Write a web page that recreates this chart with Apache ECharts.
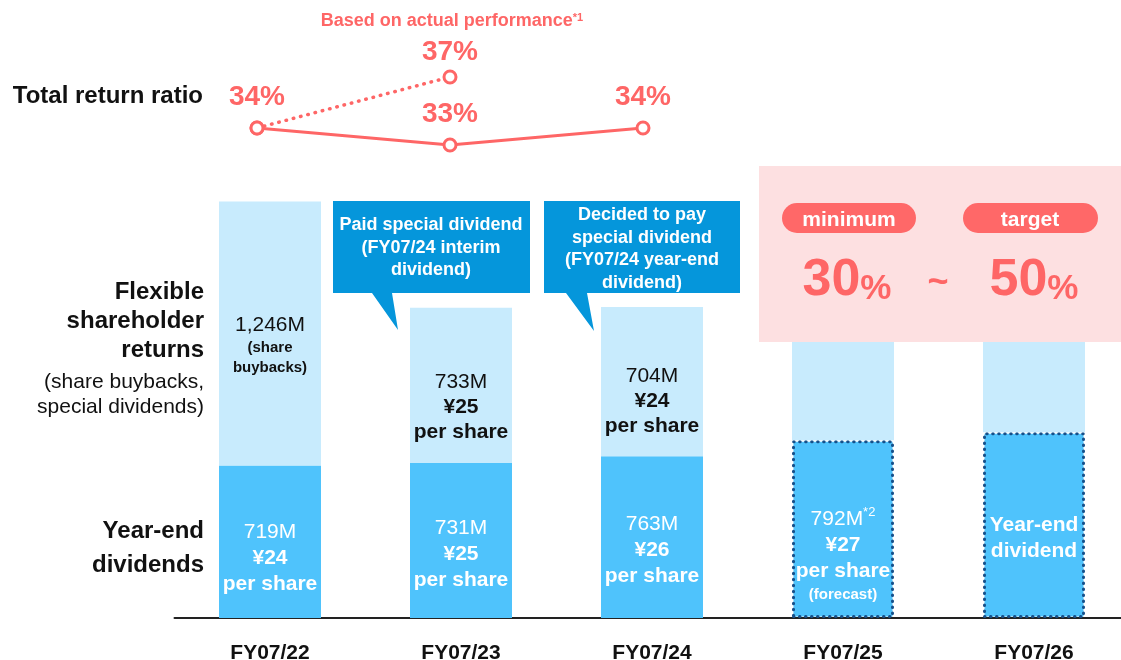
<!DOCTYPE html>
<html>
<head>
<meta charset="utf-8">
<script src="https://cdn.jsdelivr.net/npm/echarts@6/dist/echarts.min.js"></script>
<style>
  html, body { margin: 0; padding: 0; background: #fff; }
  #chart { width: 1121px; height: 660px; }
</style>
</head>
<body>
<div id="chart"></div>
<script>
// data
const years = ['FY07/22', 'FY07/23', 'FY07/24', 'FY07/25', 'FY07/26'];
const yearEnd = [719, 731, 763, 838, 876];        // year-end dividends (M)
const flexible = [1246, 733, 704, 890, 850];      // flexible returns (M), last two hidden under box
const returnActual = [34, 33, 34];                // total return ratio (%)
const returnBased = [34, 37];                     // based on actual performance (%)

const darkLabels = [
  '{n|719M}\n{b|¥24}\n{b|per share}',
  '{n|731M}\n{b|¥25}\n{b|per share}',
  '{n|763M}\n{b|¥26}\n{b|per share}',
  '{n|792M}{sup|*2}\n{b|¥27}\n{b|per share}\n{s|(forecast)}',
  '{b|Year-end}\n{b|dividend}'
];
const lightLabels = [
  '{n|1,246M}\n{s|(share}\n{s|buybacks)}',
  '{n|733M}\n{b|¥25}\n{b|per share}',
  '{n|704M}\n{b|¥24}\n{b|per share}',
  '', ''
];

const FONT = '"Liberation Sans", Arial, sans-serif';
const SALMON = '#fe6666';
const DARK = '#4fc3fc';
const LIGHT = '#c8ebfd';

const darkOffsets = [16, 14, 13, 27, 13];
const lightOffsets = [12, 22, 20, 0, 0];

let chart = echarts.init(document.getElementById('chart'));

const richDark = {
  n: { fontSize: 21, color: '#fff', lineHeight: 26, fontFamily: FONT },
  b: { fontSize: 21, color: '#fff', fontWeight: 'bold', lineHeight: 26, fontFamily: FONT },
  s: { fontSize: 15, color: '#fff', fontWeight: 'bold', lineHeight: 22, fontFamily: FONT },
  sup: { fontSize: 13, color: '#fff', verticalAlign: 'top', lineHeight: 26, fontFamily: FONT }
};
const richLight = {
  n: { fontSize: 21, color: '#111', lineHeight: 25, fontFamily: FONT },
  b: { fontSize: 21, color: '#111', fontWeight: 'bold', lineHeight: 25, fontFamily: FONT },
  s: { fontSize: 15, color: '#111', fontWeight: 'bold', lineHeight: 20, fontFamily: FONT }
};

const dottedBorder = {
  borderColor: '#16508a',
  borderWidth: 3,
  borderType: [0.5, 5.5],
  borderCap: 'round'
};

function textEl(text, x, y, font, opts) {
  return {
    type: 'text',
    z: 60,
    style: Object.assign({
      text: text, x: x, y: y, font: font, fill: '#111',
      textAlign: 'right', textVerticalAlign: 'middle'
    }, opts || {})
  };
}

let option = {
  animation: false,
  grid: [
    { left: 174.5, width: 955, top: 194, bottom: 42, outerBoundsMode: 'none' },
    { left: 257, width: 772, top: 26, height: 170, outerBoundsMode: 'none' }
  ],
  xAxis: [
    {
      type: 'category', gridIndex: 0, data: years,
      axisLine: { lineStyle: { color: '#222', width: 2 } },
      axisTick: { show: false },
      axisLabel: { margin: 25, fontSize: 21, fontWeight: 'bold', color: '#111', fontFamily: FONT }
    },
    { type: 'value', gridIndex: 1, min: 0, max: 4, show: false }
  ],
  yAxis: [
    { type: 'value', gridIndex: 0, min: 0, max: 2000, show: false },
    { type: 'value', gridIndex: 1, min: 30, max: 40, show: false }
  ],
  series: [
    {
      type: 'bar', stack: 'r', barWidth: 102,
      data: yearEnd.map((v, i) => ({
        value: v,
        itemStyle: i >= 3 ? Object.assign({ color: DARK }, dottedBorder) : { color: DARK },
        label: { offset: [0, darkOffsets[i]] }
      })),
      label: {
        show: true, position: 'inside',
        formatter: p => darkLabels[p.dataIndex],
        rich: richDark
      }
    },
    {
      type: 'bar', stack: 'r', barWidth: 102,
      data: flexible.map((v, i) => ({ value: v, label: { offset: [0, lightOffsets[i]] } })),
      itemStyle: { color: LIGHT },
      label: {
        show: true, position: 'inside',
        formatter: p => lightLabels[p.dataIndex],
        rich: richLight
      }
    },
    {
      type: 'line', xAxisIndex: 1, yAxisIndex: 1, z: 5,
      data: returnActual.map((v, i) => [i, v]),
      symbol: 'circle', symbolSize: 12,
      itemStyle: { color: '#fff', borderColor: SALMON, borderWidth: 3 },
      lineStyle: { color: SALMON, width: 3 },
      label: {
        show: true, position: 'top', distance: 9,
        formatter: p => p.value[1] + '%',
        fontSize: 28, fontWeight: 'bold', color: SALMON, fontFamily: FONT
      }
    },
    {
      type: 'line', xAxisIndex: 1, yAxisIndex: 1, z: 4,
      data: returnBased.map((v, i) => [i, v]),
      symbol: 'circle', symbolSize: 12,
      itemStyle: { color: '#fff', borderColor: SALMON, borderWidth: 3 },
      lineStyle: { color: SALMON, width: 3.5, type: [0.5, 7], cap: 'round' },
      label: {
        show: true, position: 'top', distance: 3,
        formatter: p => (p.dataIndex === 1 ? p.value[1] + '%' : ''),
        fontSize: 28, fontWeight: 'bold', color: SALMON, fontFamily: FONT
      }
    }
  ],
  graphic: [
    // left side labels
    textEl('Total return ratio', 203, 96, 'bold 24px ' + FONT),
    textEl('Flexible\nshareholder\nreturns', 204, 321, 'bold 24px ' + FONT, { lineHeight: 29 }),
    textEl('(share buybacks,\nspecial dividends)', 204, 395, '21px ' + FONT, { lineHeight: 25 }),
    textEl('Year-end\ndividends', 204, 548, 'bold 24px ' + FONT, { lineHeight: 34 }),
    // top note
    {
      type: 'text', z: 60,
      style: {
        x: 452, y: 21, textAlign: 'center', textVerticalAlign: 'middle',
        text: '{a|Based on actual performance}{s|*1}',
        rich: {
          a: { font: 'bold 18px ' + FONT, fill: SALMON },
          s: { font: 'bold 11px ' + FONT, fill: SALMON, verticalAlign: 'top' }
        }
      }
    },
    // callouts
    {
      type: 'polygon', z: 50,
      shape: { points: [[333, 201], [530, 201], [530, 293], [392, 293], [398, 330], [372, 293], [333, 293]] },
      style: { fill: '#0596db' }
    },
    textEl('Paid special dividend\n(FY07/24 interim\ndividend)', 431, 248, 'bold 18px ' + FONT,
      { fill: '#fff', textAlign: 'center', lineHeight: 22.5 }),
    {
      type: 'polygon', z: 50,
      shape: { points: [[544, 201], [740, 201], [740, 293], [587, 293], [594, 331], [566, 293], [544, 293]] },
      style: { fill: '#0596db' }
    },
    textEl('Decided to pay\nspecial dividend\n(FY07/24 year-end\ndividend)', 642, 249, 'bold 18px ' + FONT,
      { fill: '#fff', textAlign: 'center', lineHeight: 22.5 }),
    // target box
    {
      type: 'rect', z: 50,
      shape: { x: 759, y: 166, width: 362, height: 176 },
      style: { fill: '#fde0e1' }
    },
    {
      type: 'rect', z: 51,
      shape: { x: 782, y: 203, width: 134, height: 30, r: 15 },
      style: { fill: '#ff6868' }
    },
    {
      type: 'rect', z: 51,
      shape: { x: 963, y: 203, width: 135, height: 30, r: 15 },
      style: { fill: '#ff6868' }
    },
    textEl('minimum', 849, 220, 'bold 21px ' + FONT, { fill: '#fff', textAlign: 'center' }),
    textEl('target', 1030, 220, 'bold 21px ' + FONT, { fill: '#fff', textAlign: 'center' }),
    {
      type: 'text', z: 60,
      style: {
        x: 847, y: 281, textAlign: 'center', textVerticalAlign: 'middle',
        text: '{b|30}{p|%}',
        rich: {
          b: { font: 'bold 52px ' + FONT, fill: SALMON, verticalAlign: 'bottom' },
          p: { font: 'bold 35px ' + FONT, fill: SALMON, verticalAlign: 'bottom' }
        }
      }
    },
    textEl('~', 938, 283, 'bold 36px ' + FONT, { fill: SALMON, textAlign: 'center' }),
    {
      type: 'text', z: 60,
      style: {
        x: 1034, y: 281, textAlign: 'center', textVerticalAlign: 'middle',
        text: '{b|50}{p|%}',
        rich: {
          b: { font: 'bold 52px ' + FONT, fill: SALMON, verticalAlign: 'bottom' },
          p: { font: 'bold 35px ' + FONT, fill: SALMON, verticalAlign: 'bottom' }
        }
      }
    }
  ]
};

chart.setOption(option);
</script>
</body>
</html>
